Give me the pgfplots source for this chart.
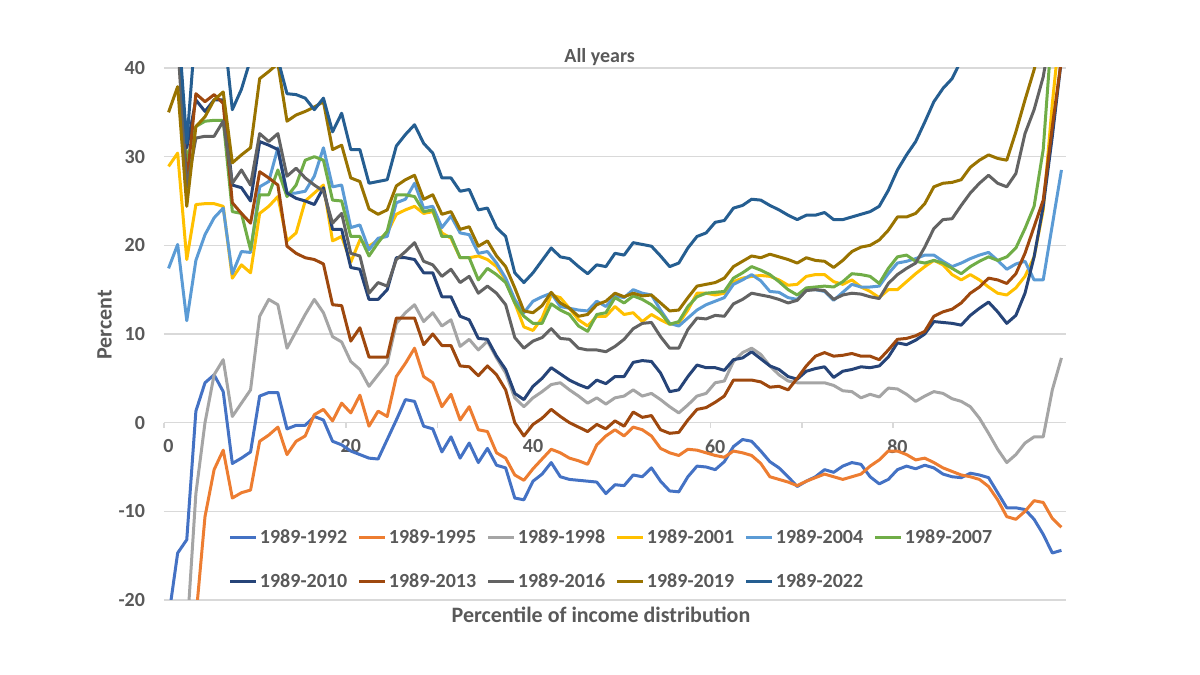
\documentclass[border=0pt]{standalone}
\usepackage{fontspec}
\setmainfont{Carlito}
\usepackage{pgfplots}
\pgfplotsset{compat=1.18}
\definecolor{txt}{HTML}{595959}
\definecolor{grd}{HTML}{D9D9D9}
\definecolor{cA}{HTML}{4472C4}
\definecolor{cB}{HTML}{ED7D31}
\definecolor{cC}{HTML}{A5A5A5}
\definecolor{cD}{HTML}{FFC000}
\definecolor{cE}{HTML}{5B9BD5}
\definecolor{cF}{HTML}{70AD47}
\definecolor{cG}{HTML}{264478}
\definecolor{cH}{HTML}{9E480E}
\definecolor{cI}{HTML}{636363}
\definecolor{cJ}{HTML}{997300}
\definecolor{cK}{HTML}{255E91}
\begin{document}
\begin{tikzpicture}
\path[use as bounding box] (-82pt,-37.5pt) rectangle (518pt,300pt);
\begin{axis}[
 at={(0pt,0pt)}, anchor=south west,
 scale only axis, width=451pt, height=266pt,
 xmin=-0.5, xmax=98.5, ymin=-20, ymax=40,
 axis x line=middle, axis y line=left,
 axis line style={-},
 x axis line style={draw=grd, line width=0.75pt},
 y axis line style={draw=none},
 hide obscured x ticks=false, hide obscured y ticks=false,
 xtick={0,20,40,60,80}, xticklabels={0,20,40,60,80},
 ytick={-20,-10,0,10,20,30,40}, yticklabels={-20,-10,0,10,20,30,40},
 major tick length=0pt,
 extra x ticks={-0.5,9.5,19.5,29.5,39.5,49.5,59.5,69.5,79.5,89.5},
 extra x tick labels={},
 extra x tick style={major tick length=2.5pt, tick align=outside, tick style={draw=grd, line width=0.75pt}},
 ymajorgrids, major grid style={draw=grd, line width=0.75pt},
 tick label style={font=\fontsize{10}{12}\selectfont\bfseries, text=txt},
 xticklabel style={anchor=north, yshift=-5pt},
 yticklabel style={anchor=east, xshift=-6pt},
 title={All years},
 every axis title/.style={at={(axis description cs:0.483,1.0207)}, anchor=center, font=\fontsize{10}{12}\selectfont\bfseries, text=txt},
 xlabel={Percentile of income distribution},
 ylabel={Percent},
 every axis x label/.style={at={(axis description cs:0.4845,-0.028)}, anchor=center, font=\fontsize{11}{13}\selectfont\bfseries, text=txt},
 every axis y label/.style={at={(axis description cs:-0.066,0.517)}, anchor=center, rotate=90, font=\fontsize{11}{13}\selectfont\bfseries, text=txt},
 legend columns=6,
 legend style={at={(axis description cs:0.072,0.137)}, anchor=north west, draw=none, fill=none, inner sep=0pt, outer sep=0pt, row sep=11.5pt, font=\fontsize{10}{12}\selectfont\bfseries, text=txt, nodes={inner sep=1pt, text height=7pt, text depth=1.5pt, text width=46pt, align=left}, /tikz/every even column/.append style={column sep=2pt}},
 legend image code/.code={\draw[#1, line width=1.5pt] (0pt,0pt) -- (13pt,0pt);},
 every axis plot/.append style={line width=1.5pt, line join=round, mark=none},
]
\addplot[cA] coordinates {(0,-22)(1,-14.7)(2,-13.2)(3,1.3)(4,4.5)(5,5.4)(6,3.5)(7,-4.6)(8,-4.0)(9,-3.3)(10,3.0)(11,3.4)(12,3.4)(13,-0.7)(14,-0.3)(15,-0.3)(16,0.7)(17,0.3)(18,-2.1)(19,-2.5)(20,-3.2)(21,-3.6)(22,-4.0)(23,-4.1)(24,-1.9)(25,0.3)(26,2.6)(27,2.4)(28,-0.4)(29,-0.7)(30,-3.3)(31,-1.6)(32,-4.0)(33,-2.3)(34,-4.5)(35,-2.9)(36,-4.8)(37,-5.1)(38,-8.5)(39,-8.7)(40,-6.6)(41,-5.8)(42,-4.5)(43,-6.1)(44,-6.4)(45,-6.5)(46,-6.6)(47,-6.7)(48,-8.0)(49,-7.0)(50,-7.1)(51,-5.9)(52,-6.1)(53,-5.1)(54,-6.6)(55,-7.7)(56,-7.8)(57,-6.1)(58,-4.9)(59,-5.0)(60,-5.3)(61,-4.4)(62,-2.7)(63,-1.9)(64,-2.1)(65,-3.2)(66,-4.4)(67,-5.1)(68,-6.1)(69,-7.2)(70,-6.6)(71,-6.1)(72,-5.3)(73,-5.6)(74,-4.9)(75,-4.5)(76,-4.7)(77,-6.1)(78,-6.9)(79,-6.4)(80,-5.3)(81,-4.9)(82,-5.2)(83,-4.8)(84,-5.1)(85,-5.8)(86,-6.1)(87,-6.2)(88,-5.7)(89,-5.9)(90,-6.2)(91,-7.9)(92,-9.6)(93,-9.6)(94,-9.8)(95,-10.9)(96,-12.6)(97,-14.7)(98,-14.4)};
\addlegendentry{1989-1992}
\addplot[cB] coordinates {(0,-40)(1,-33)(2,-27)(3,-22)(4,-10.6)(5,-5.3)(6,-3.1)(7,-8.5)(8,-7.9)(9,-7.6)(10,-2.1)(11,-1.4)(12,-0.5)(13,-3.6)(14,-2.1)(15,-1.5)(16,0.9)(17,1.5)(18,0.2)(19,2.2)(20,1.1)(21,3.1)(22,-0.4)(23,1.3)(24,0.7)(25,5.2)(26,6.7)(27,8.4)(28,5.2)(29,4.5)(30,1.8)(31,3.2)(32,0.3)(33,1.8)(34,-0.8)(35,-1.0)(36,-3.4)(37,-4.0)(38,-5.9)(39,-6.5)(40,-5.2)(41,-4.1)(42,-3.0)(43,-3.4)(44,-4.0)(45,-4.3)(46,-4.7)(47,-2.5)(48,-1.5)(49,-0.8)(50,-1.5)(51,-0.5)(52,-0.8)(53,-1.5)(54,-2.9)(55,-3.4)(56,-3.7)(57,-3.0)(58,-3.1)(59,-3.4)(60,-3.7)(61,-3.9)(62,-3.2)(63,-3.4)(64,-3.7)(65,-4.6)(66,-6.1)(67,-6.4)(68,-6.7)(69,-7.1)(70,-6.6)(71,-6.2)(72,-5.8)(73,-6.1)(74,-6.4)(75,-6.1)(76,-5.8)(77,-4.9)(78,-4.2)(79,-3.2)(80,-3.2)(81,-3.6)(82,-4.2)(83,-4.0)(84,-4.5)(85,-5.1)(86,-5.5)(87,-5.9)(88,-6.1)(89,-6.4)(90,-7.2)(91,-8.7)(92,-10.6)(93,-10.9)(94,-10.0)(95,-8.8)(96,-9.0)(97,-10.8)(98,-11.8)};
\addlegendentry{1989-1995}
\addplot[cC] coordinates {(0,-40)(1,-35)(2,-24)(3,-8)(4,0.0)(5,5.4)(6,7.1)(7,0.7)(8,2.2)(9,3.7)(10,12.0)(11,13.9)(12,13.3)(13,8.4)(14,10.3)(15,12.2)(16,13.9)(17,12.4)(18,9.7)(19,9.1)(20,6.9)(21,6.0)(22,4.1)(23,5.4)(24,6.7)(25,11.2)(26,12.4)(27,13.3)(28,11.4)(29,12.4)(30,10.9)(31,11.6)(32,8.6)(33,9.4)(34,8.2)(35,9.2)(36,7.3)(37,5.6)(38,2.8)(39,1.8)(40,2.8)(41,3.5)(42,4.3)(43,4.5)(44,3.7)(45,3.0)(46,2.2)(47,2.8)(48,2.1)(49,2.8)(50,3.0)(51,3.7)(52,3.0)(53,3.3)(54,2.6)(55,1.8)(56,1.1)(57,2.0)(58,3.0)(59,3.3)(60,4.5)(61,4.7)(62,6.9)(63,7.9)(64,8.4)(65,7.7)(66,6.4)(67,5.4)(68,4.7)(69,4.5)(70,4.5)(71,4.5)(72,4.5)(73,4.2)(74,3.6)(75,3.5)(76,2.8)(77,3.2)(78,2.9)(79,3.9)(80,3.8)(81,3.2)(82,2.4)(83,3.0)(84,3.5)(85,3.3)(86,2.7)(87,2.4)(88,1.8)(89,0.5)(90,-1.2)(91,-3.0)(92,-4.5)(93,-3.6)(94,-2.3)(95,-1.6)(96,-1.6)(97,3.7)(98,7.3)};
\addlegendentry{1989-1998}
\addplot[cD] coordinates {(0,28.9)(1,30.4)(2,18.4)(3,24.6)(4,24.7)(5,24.7)(6,24.4)(7,16.3)(8,17.8)(9,16.9)(10,23.6)(11,24.4)(12,25.5)(13,20.5)(14,21.4)(15,25.0)(16,25.9)(17,26.8)(18,20.5)(19,21.0)(20,18.1)(21,20.6)(22,19.9)(23,20.6)(24,21.4)(25,23.5)(26,24.0)(27,24.4)(28,23.6)(29,23.8)(30,21.4)(31,20.8)(32,18.6)(33,18.6)(34,18.8)(35,18.4)(36,17.6)(37,16.1)(38,13.5)(39,10.8)(40,10.4)(41,11.8)(42,14.4)(43,14.1)(44,12.9)(45,11.6)(46,10.9)(47,12.0)(48,12.0)(49,13.1)(50,12.2)(51,12.4)(52,11.4)(53,12.2)(54,11.6)(55,11.1)(56,11.2)(57,12.7)(58,14.6)(59,14.6)(60,14.4)(61,14.6)(62,15.9)(63,16.3)(64,16.5)(65,16.6)(66,16.5)(67,16.1)(68,15.5)(69,15.6)(70,16.5)(71,16.7)(72,16.7)(73,15.9)(74,15.6)(75,16.1)(76,15.3)(77,14.8)(78,14.1)(79,15.0)(80,15.0)(81,15.9)(82,16.8)(83,17.6)(84,18.3)(85,17.8)(86,16.7)(87,16.1)(88,16.7)(89,16.1)(90,15.3)(91,14.6)(92,14.4)(93,15.2)(94,16.5)(95,18.7)(96,24.0)(97,36)(98,46)};
\addlegendentry{1989-2001}
\addplot[cE] coordinates {(0,17.4)(1,20.1)(2,11.5)(3,18.3)(4,21.2)(5,23.1)(6,24.2)(7,16.8)(8,19.3)(9,19.2)(10,26.6)(11,27.2)(12,31.0)(13,25.9)(14,25.9)(15,26.1)(16,27.8)(17,31.0)(18,26.6)(19,26.8)(20,22.0)(21,22.3)(22,19.5)(23,20.8)(24,21.0)(25,24.8)(26,25.2)(27,27.0)(28,24.2)(29,24.4)(30,22.0)(31,23.3)(32,21.4)(33,21.2)(34,19.1)(35,19.3)(36,18.0)(37,16.3)(38,13.9)(39,12.4)(40,13.7)(41,14.2)(42,14.6)(43,13.1)(44,12.9)(45,12.7)(46,12.6)(47,13.7)(48,13.1)(49,14.3)(50,14.1)(51,15.0)(52,14.6)(53,14.4)(54,12.7)(55,11.2)(56,10.9)(57,11.8)(58,12.7)(59,13.3)(60,13.7)(61,14.1)(62,15.6)(63,16.1)(64,16.7)(65,16.0)(66,14.8)(67,14.7)(68,14.1)(69,13.9)(70,15.0)(71,15.0)(72,14.8)(73,13.8)(74,14.7)(75,15.6)(76,15.3)(77,15.3)(78,15.4)(79,16.8)(80,18.0)(81,18.2)(82,18.5)(83,18.9)(84,18.9)(85,18.2)(86,17.6)(87,18.0)(88,18.5)(89,18.9)(90,19.2)(91,18.3)(92,17.3)(93,17.9)(94,18.2)(95,16.1)(96,16.1)(97,22.3)(98,28.5)};
\addlegendentry{1989-2004}
\addplot[cF] coordinates {(0,45)(1,44)(2,29.5)(3,33.4)(4,34.0)(5,34.1)(6,34.1)(7,23.8)(8,23.6)(9,19.5)(10,25.7)(11,25.7)(12,28.5)(13,25.5)(14,26.8)(15,29.6)(16,30.0)(17,29.6)(18,25.1)(19,25.0)(20,21.0)(21,21.0)(22,18.8)(23,20.3)(24,21.6)(25,25.7)(26,25.7)(27,25.5)(28,23.8)(29,24.0)(30,21.0)(31,21.0)(32,18.6)(33,18.6)(34,16.1)(35,17.4)(36,16.7)(37,15.8)(38,13.5)(39,12.0)(40,11.2)(41,11.2)(42,13.4)(43,12.7)(44,12.2)(45,10.9)(46,10.3)(47,12.2)(48,12.4)(49,14.1)(50,13.5)(51,14.3)(52,13.9)(53,13.3)(54,12.4)(55,11.1)(56,11.4)(57,13.1)(58,14.2)(59,14.6)(60,14.7)(61,14.8)(62,16.3)(63,16.9)(64,17.6)(65,17.2)(66,16.7)(67,15.9)(68,15.0)(69,14.4)(70,15.2)(71,15.3)(72,15.4)(73,15.3)(74,15.9)(75,16.8)(76,16.7)(77,16.5)(78,15.7)(79,17.4)(80,18.7)(81,18.9)(82,18.2)(83,18.0)(84,18.3)(85,18.0)(86,17.4)(87,16.8)(88,17.6)(89,18.2)(90,18.7)(91,18.3)(92,18.7)(93,19.7)(94,21.9)(95,24.4)(96,30.8)(97,45)(98,50)};
\addlegendentry{1989-2007}
\addplot[cG] coordinates {(0,46)(1,44)(2,31)(3,36.4)(4,35.1)(5,36.4)(6,36.4)(7,26.8)(8,26.5)(9,25.0)(10,31.7)(11,31.3)(12,30.8)(13,25.9)(14,25.3)(15,25.0)(16,24.6)(17,26.5)(18,21.8)(19,21.8)(20,17.5)(21,17.3)(22,13.9)(23,13.9)(24,15.0)(25,18.6)(26,18.6)(27,18.4)(28,16.9)(29,16.9)(30,14.2)(31,14.2)(32,12.0)(33,11.6)(34,9.5)(35,9.4)(36,7.5)(37,6.0)(38,3.3)(39,2.6)(40,4.1)(41,5.0)(42,6.2)(43,5.5)(44,4.8)(45,4.3)(46,3.9)(47,4.8)(48,4.4)(49,5.2)(50,5.2)(51,6.8)(52,7.0)(53,6.9)(54,5.6)(55,3.5)(56,3.7)(57,5.2)(58,6.5)(59,6.2)(60,6.2)(61,5.9)(62,7.1)(63,7.3)(64,8.0)(65,7.2)(66,6.4)(67,6.0)(68,5.2)(69,4.9)(70,5.8)(71,6.1)(72,6.3)(73,5.1)(74,5.8)(75,6.0)(76,6.3)(77,6.2)(78,6.4)(79,7.4)(80,9.0)(81,8.8)(82,9.3)(83,10.0)(84,11.4)(85,11.3)(86,11.2)(87,11.0)(88,12.1)(89,12.9)(90,13.6)(91,12.5)(92,11.2)(93,12.1)(94,14.6)(95,18.7)(96,24.4)(97,32.3)(98,41)};
\addlegendentry{1989-2010}
\addplot[cH] coordinates {(0,46)(1,44)(2,27)(3,37.1)(4,36.2)(5,37.0)(6,36.0)(7,24.8)(8,23.6)(9,22.5)(10,28.3)(11,27.6)(12,26.8)(13,19.9)(14,19.1)(15,18.6)(16,18.4)(17,17.9)(18,13.3)(19,13.2)(20,9.2)(21,10.7)(22,7.4)(23,7.4)(24,7.4)(25,11.8)(26,11.8)(27,11.8)(28,8.8)(29,10.0)(30,8.7)(31,8.7)(32,6.4)(33,6.3)(34,5.3)(35,6.4)(36,5.4)(37,3.7)(38,0.0)(39,-1.5)(40,-0.2)(41,0.5)(42,1.5)(43,0.7)(44,0.0)(45,-0.5)(46,-1.0)(47,-0.2)(48,-0.7)(49,0.2)(50,-0.4)(51,1.2)(52,0.6)(53,0.8)(54,-0.8)(55,-1.2)(56,-1.1)(57,0.3)(58,1.5)(59,1.7)(60,2.3)(61,3.0)(62,4.8)(63,4.8)(64,4.8)(65,4.6)(66,4.0)(67,4.1)(68,3.7)(69,5.0)(70,6.4)(71,7.5)(72,7.9)(73,7.5)(74,7.6)(75,7.8)(76,7.5)(77,7.5)(78,7.1)(79,8.2)(80,9.4)(81,9.5)(82,9.8)(83,10.3)(84,12.0)(85,12.5)(86,12.8)(87,13.5)(88,14.6)(89,15.3)(90,16.3)(91,16.1)(92,15.7)(93,16.8)(94,19.1)(95,22.1)(96,25.1)(97,33.4)(98,41)};
\addlegendentry{1989-2013}
\addplot[cI] coordinates {(0,46)(1,43)(2,26.5)(3,32.1)(4,32.3)(5,32.3)(6,34.0)(7,27.0)(8,28.5)(9,26.8)(10,32.6)(11,31.7)(12,32.6)(13,27.8)(14,28.7)(15,27.6)(16,26.8)(17,26.1)(18,22.5)(19,23.6)(20,19.1)(21,18.8)(22,14.6)(23,15.8)(24,15.4)(25,18.4)(26,19.3)(27,20.3)(28,18.2)(29,17.8)(30,16.5)(31,17.3)(32,15.8)(33,16.5)(34,14.6)(35,15.4)(36,14.6)(37,13.3)(38,9.6)(39,8.4)(40,9.2)(41,9.6)(42,10.6)(43,9.5)(44,9.4)(45,8.4)(46,8.2)(47,8.2)(48,8.0)(49,8.6)(50,9.4)(51,10.6)(52,11.2)(53,11.3)(54,9.7)(55,8.4)(56,8.4)(57,10.5)(58,11.8)(59,11.7)(60,12.1)(61,12.0)(62,13.4)(63,13.9)(64,14.6)(65,14.4)(66,14.2)(67,13.9)(68,13.5)(69,13.8)(70,14.9)(71,15.0)(72,14.9)(73,13.9)(74,14.4)(75,14.6)(76,14.5)(77,14.2)(78,14.0)(79,15.7)(80,16.7)(81,17.4)(82,18.0)(83,19.8)(84,21.9)(85,22.9)(86,23.0)(87,24.5)(88,25.9)(89,27.0)(90,27.9)(91,27.0)(92,26.6)(93,28.1)(94,32.6)(95,35.3)(96,39.0)(97,45)(98,50)};
\addlegendentry{1989-2016}
\addplot[cJ] coordinates {(0,35.0)(1,37.9)(2,24.4)(3,33.4)(4,34.5)(5,36.4)(6,37.3)(7,29.3)(8,30.2)(9,31.0)(10,38.8)(11,39.6)(12,40.5)(13,34.0)(14,34.7)(15,35.1)(16,35.6)(17,36.2)(18,30.8)(19,31.3)(20,27.6)(21,27.2)(22,24.1)(23,23.5)(24,24.0)(25,26.7)(26,27.4)(27,27.9)(28,25.2)(29,25.7)(30,23.5)(31,23.8)(32,21.8)(33,22.1)(34,19.9)(35,20.5)(36,18.8)(37,17.6)(38,15.2)(39,12.6)(40,12.4)(41,13.2)(42,14.7)(43,13.5)(44,12.9)(45,12.0)(46,12.2)(47,13.3)(48,13.7)(49,14.6)(50,14.2)(51,14.6)(52,14.3)(53,14.4)(54,13.5)(55,12.6)(56,12.7)(57,14.1)(58,15.4)(59,15.6)(60,15.8)(61,16.3)(62,17.6)(63,18.2)(64,18.8)(65,18.6)(66,19.0)(67,18.7)(68,18.4)(69,18.0)(70,18.6)(71,18.3)(72,18.2)(73,17.5)(74,18.3)(75,19.3)(76,19.8)(77,20.0)(78,20.6)(79,21.7)(80,23.2)(81,23.2)(82,23.6)(83,24.7)(84,26.6)(85,27.0)(86,27.1)(87,27.4)(88,28.8)(89,29.6)(90,30.2)(91,29.8)(92,29.6)(93,32.8)(94,36.4)(95,39.8)(96,44)(97,48)(98,52)};
\addlegendentry{1989-2019}
\addplot[cK] coordinates {(0,48)(1,46)(2,31.5)(3,45)(4,45)(5,45)(6,45)(7,35.3)(8,37.6)(9,41)(10,44)(11,43)(12,41)(13,37.1)(14,37.0)(15,36.6)(16,35.3)(17,36.6)(18,32.8)(19,34.9)(20,30.8)(21,30.8)(22,27.0)(23,27.2)(24,27.4)(25,31.2)(26,32.5)(27,33.6)(28,31.5)(29,30.4)(30,27.6)(31,27.6)(32,26.1)(33,26.3)(34,24.0)(35,24.2)(36,22.0)(37,21.0)(38,16.9)(39,15.8)(40,16.9)(41,18.3)(42,19.7)(43,18.7)(44,18.5)(45,17.6)(46,16.8)(47,17.8)(48,17.6)(49,19.1)(50,18.9)(51,20.3)(52,20.1)(53,19.9)(54,18.8)(55,17.6)(56,18.0)(57,19.7)(58,21.0)(59,21.4)(60,22.6)(61,22.8)(62,24.2)(63,24.5)(64,25.2)(65,25.1)(66,24.5)(67,24.0)(68,23.4)(69,22.9)(70,23.4)(71,23.4)(72,23.7)(73,22.9)(74,22.9)(75,23.2)(76,23.5)(77,23.8)(78,24.4)(79,26.2)(80,28.5)(81,30.2)(82,31.7)(83,33.9)(84,36.2)(85,37.7)(86,38.8)(87,40.9)(88,44)(89,48)(90,52)(91,56)(92,60)(93,64)(94,68)(95,72)(96,76)(97,80)(98,84)};
\addlegendentry{1989-2022}
\end{axis}
\end{tikzpicture}
\end{document}
